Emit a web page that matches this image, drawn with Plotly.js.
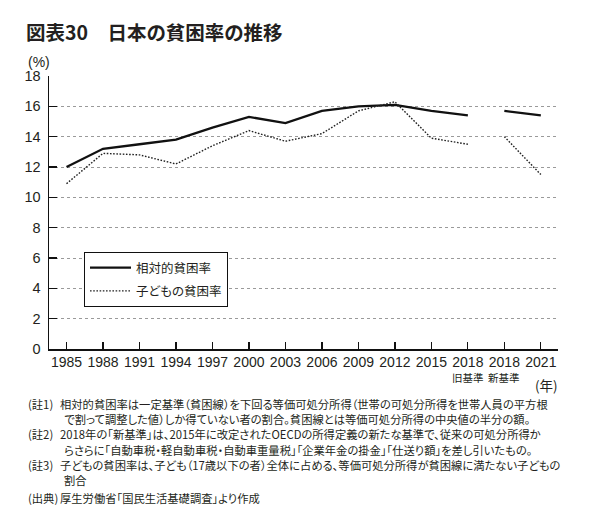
<!DOCTYPE html>
<html>
<head>
<meta charset="utf-8">
<script src="https://cdn.plot.ly/plotly-3.0.1.min.js"></script>
<style>
  html, body { margin: 0; padding: 0; background: #fff; }
  #chart { width: 589px; height: 525px; }
  /* proportional CJK punctuation (applied everywhere so text measuring agrees) */
  svg text { font-feature-settings: "palt" 1; }
</style>
</head>
<body>
<div id="chart"></div>
<script>
// Survey years (2018 appears twice: old and new income definition)
const categories = ['1985', '1988', '1991', '1994', '1997', '2000', '2003', '2006',
                    '2009', '2012', '2015', '2018旧', '2018新', '2021'];
const tickLabels = ['1985', '1988', '1991', '1994', '1997', '2000', '2003', '2006',
                    '2009', '2012', '2015', '2018', '2018', '2021'];
// Relative poverty rate (%)
const relativeRate = [12.0, 13.2, 13.5, 13.8, 14.6, 15.3, 14.9, 15.7, 16.0, 16.1, 15.7, 15.4, 15.7, 15.4];
// Child poverty rate (%)
const childRate = [10.9, 12.9, 12.8, 12.2, 13.4, 14.4, 13.7, 14.2, 15.7, 16.3, 13.9, 13.5, 14.0, 11.5];
const seriesNames = ['相対的貧困率', '子どもの貧困率'];
// Index where the new-standard segment begins
const splitAt = 12;

const notes = [
  ['(註1)', '相対的貧困率は一定基準（貧困線）を下回る等価可処分所得（世帯の可処分所得を世帯人員の平方根',
            'で割って調整した値）しか得ていない者の割合。貧困線とは等価可処分所得の中央値の半分の額。'],
  ['(註2)', '2018年の「新基準」は、2015年に改定されたOECDの所得定義の新たな基準で、従来の可処分所得か',
            'らさらに「自動車税・軽自動車税・自動車重量税」「企業年金の掛金」「仕送り額」を差し引いたもの。'],
  ['(註3)', '子どもの貧困率は、子ども（17歳以下の者）全体に占める、等価可処分所得が貧困線に満たない子どもの',
            '割合'],
];
const source = ['(出典)', '厚生労働省「国民生活基礎調査」より作成'];

// Plot-area geometry in pixels, used to place paper-referenced text
const L = 49, T = 76, W = 509, H = 273;
const px = x => (x - L) / W;
const py = y => (T + H - y) / H;

const JP = '"Noto Sans CJK JP", "Liberation Sans", sans-serif';
const NUM = '"Liberation Sans", Arial, "Noto Sans CJK JP", sans-serif';
const INK = '#231f20';

function segment(values, name, group, line, from, to, showlegend) {
  return {
    type: 'scatter', mode: 'lines',
    x: categories.slice(from, to), y: values.slice(from, to),
    name: name, legendgroup: group, showlegend: showlegend,
    line: line, hoverinfo: 'x+y'
  };
}

const solid = { color: '#111', width: 2.3 };
const dotted = { color: '#222', width: 1.4, dash: '1.6px,1.6px' };

const data = [
  segment(relativeRate, seriesNames[0], 'rel', solid, 0, splitAt, true),
  segment(relativeRate, seriesNames[0], 'rel', solid, splitAt, categories.length, false),
  segment(childRate, seriesNames[1], 'child', dotted, 0, splitAt, true),
  segment(childRate, seriesNames[1], 'child', dotted, splitAt, categories.length, false),
];

const annotations = [];
function text(x, y, s, size, opts) {
  annotations.push(Object.assign({
    xref: 'paper', yref: 'paper', x: px(x), y: py(y), text: s,
    showarrow: false, xanchor: 'left', yanchor: 'middle',
    font: { family: JP, size: size, color: INK }
  }, opts || {}));
}

// Unit label above the y axis
text(26, 62, '(%)', 14, { font: { family: NUM, size: 14, color: INK } });
// Sub-labels under the two 2018 ticks and the year unit
annotations.push({ xref: 'x', yref: 'paper', x: categories[11], y: py(377), text: '旧基準',
  showarrow: false, xanchor: 'center', yanchor: 'middle', font: { family: JP, size: 10.5, color: INK } });
annotations.push({ xref: 'x', yref: 'paper', x: categories[12], y: py(377), text: '新基準',
  showarrow: false, xanchor: 'center', yanchor: 'middle', font: { family: JP, size: 10.5, color: INK } });
text(533, 385, '(年)', 13.5);

// Footnotes
const noteSize = 11.3;
const noteTop = 404, lineGap = 15.2;
let row = 0;
notes.forEach(n => {
  text(26, noteTop + row * lineGap, n[0], noteSize);
  text(58, noteTop + row * lineGap, n[1], noteSize);
  row++;
  text(62, noteTop + row * lineGap, n[2], noteSize);
  row++;
});
text(26, 498, source[0], noteSize);
text(58, 498, source[1], noteSize);

const layout = {
  width: 589, height: 525,
  margin: { l: L, r: 589 - L - W, t: T, b: 525 - T - H, pad: 0 },
  paper_bgcolor: '#fff', plot_bgcolor: '#fff',
  title: {
    text: '<b>図表30　日本の貧困率の推移</b>',
    xref: 'container', yref: 'container',
    x: 26 / 589, xanchor: 'left', y: 1 - 33 / 525, yanchor: 'middle',
    font: { family: JP, size: 19.5, color: INK }
  },
  showlegend: true,
  legend: {
    x: px(84), y: py(252), xanchor: 'left', yanchor: 'top',
    bordercolor: '#111', borderwidth: 1, bgcolor: '#fff',
    font: { family: JP, size: 12.5, color: INK },
    traceorder: 'grouped', tracegroupgap: 4,
    itemwidth: 41,
    entrywidth: 120
  },
  xaxis: {
    type: 'category', categoryorder: 'array', categoryarray: categories,
    range: [-0.48, categories.length - 0.53],
    tickmode: 'array', tickvals: categories, ticktext: tickLabels,
    ticks: 'inside', ticklen: 7, tickwidth: 1.2, tickcolor: '#111',
    showline: true, linecolor: '#111', linewidth: 1.5,
    showgrid: false, zeroline: false,
    tickfont: { family: NUM, size: 14, color: INK },
    fixedrange: true
  },
  yaxis: {
    range: [0, 18], tickmode: 'array', tickvals: [0, 2, 4, 6, 8, 10, 12, 14, 16, 18],
    ticks: 'inside', ticklen: 8, tickwidth: 1.2, tickcolor: '#111',
    showline: true, linecolor: '#111', linewidth: 1.5,
    showgrid: true, gridcolor: '#9a9a9a', gridwidth: 1, griddash: 'dot',
    zeroline: false, ticklabelstandoff: 4,
    tickfont: { family: NUM, size: 14.5, color: INK },
    fixedrange: true
  },
  annotations: annotations
};

Plotly.newPlot('chart', data, layout, { displayModeBar: false, staticPlot: true });
</script>
</body>
</html>
